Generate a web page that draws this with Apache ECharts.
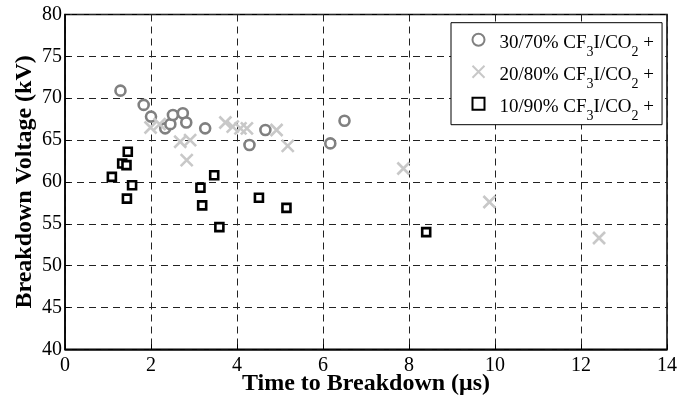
<!DOCTYPE html>
<html>
<head>
<meta charset="utf-8">
<script src="https://cdn.jsdelivr.net/npm/echarts@6/dist/echarts.min.js"></script>
<style>
  html, body { margin: 0; padding: 0; background: #fff; }
  #chart { width: 677px; height: 400px; }
</style>
</head>
<body>
<div id="chart"></div>
<script>
// time to breakdown (us) / breakdown voltage (kV)
const mix30Time = [1.29, 1.83, 2.00, 2.33, 2.45, 2.51, 2.74, 2.82, 3.26, 4.29, 4.66, 6.17, 6.50];
const mix30Volt = [70.9, 69.2, 67.8, 66.4, 66.9, 68.0, 68.2, 67.1, 66.4, 64.4, 66.2, 64.6, 67.3];

const mix20Time = [1.99, 2.20, 2.68, 2.91, 2.83, 3.73, 3.90, 4.08, 4.23, 4.92, 5.18, 7.87, 9.87, 12.42];
const mix20Volt = [66.5, 66.9, 64.8, 65.0, 62.6, 67.1, 66.6, 66.4, 66.4, 66.2, 64.3, 61.6, 57.6, 53.3];

const mix10Time = [1.09, 1.33, 1.43, 1.46, 1.56, 1.44, 3.15, 3.47, 3.19, 3.59, 4.51, 5.15, 8.40];
const mix10Volt = [60.6, 62.2, 62.0, 63.6, 59.6, 58.0, 59.3, 60.8, 57.2, 54.6, 58.1, 56.9, 54.0];

const seriesNames = ['30/70%', '20/80%', '10/90%'];
const xTicks = [0, 14, 2];   // min, max, step
const yTicks = [40, 80, 5];

const font = "'Liberation Serif', 'Times New Roman', serif";
const crossPath = 'path://M0,0L10,10M10,0L0,10';

function pairs(xs, ys) {
    return xs.map((x, i) => [x, ys[i]]);
}

const chart = echarts.init(document.getElementById('chart'));

const gridDash = {
    show: true,
    lineStyle: { color: '#222', width: 1, type: [7, 5] }
};

const option = {
    animation: false,
    backgroundColor: '#fff',
    textStyle: { fontFamily: font },
    grid: {
        left: 65, right: 10, top: 14.5, bottom: 50.7,
        containLabel: false,
        outerBoundsMode: 'none',
        show: true, borderColor: '#000', borderWidth: 1.5
    },
    legend: {
        orient: 'vertical',
        left: 451, top: 22.7,
        padding: [7, 8, 0, 19],
        itemGap: 1,
        itemWidth: 12, itemHeight: 12,
        backgroundColor: '#fff',
        borderColor: '#000', borderWidth: 1,
        borderRadius: 0,
        data: seriesNames,
        formatter: name => '{n|' + name + ' CF}{s|3}{n|I/CO}{s|2}{n| +}',
        textStyle: {
            fontFamily: font,
            color: '#000',
            padding: [0, 0, 0, 10],
            rich: {
                n: { fontFamily: font, fontSize: 19, lineHeight: 20, color: '#000', verticalAlign: 'top', padding: [4, 0, 8, 0] },
                s: { fontFamily: font, fontSize: 14, lineHeight: 16, color: '#000', verticalAlign: 'top', padding: [16, 0, 0, 0] }
            }
        }
    },
    xAxis: {
        type: 'value',
        min: xTicks[0], max: xTicks[1], interval: xTicks[2],
        name: 'Time to Breakdown (\u03bcs)',
        nameLocation: 'middle',
        nameGap: 22,
        nameMoveOverlap: false,
        nameTextStyle: { fontFamily: font, fontSize: 24, fontWeight: 'bold', color: '#000' },
        axisLine: { show: true, onZero: false, lineStyle: { color: '#000', width: 1.5 } },
        axisTick: { show: true, inside: true, length: 5, lineStyle: { color: '#000' } },
        axisLabel: { fontFamily: font, fontSize: 20, color: '#000', margin: 6 },
        splitLine: gridDash
    },
    yAxis: {
        type: 'value',
        min: yTicks[0], max: yTicks[1], interval: yTicks[2],
        name: 'Breakdown Voltage (kV)',
        nameLocation: 'middle',
        nameGap: 28,
        nameMoveOverlap: false,
        nameTextStyle: { fontFamily: font, fontSize: 24, fontWeight: 'bold', color: '#000' },
        axisLine: { show: true, onZero: false, lineStyle: { color: '#000', width: 1.5 } },
        axisTick: { show: true, inside: true, length: 5, lineStyle: { color: '#000' } },
        axisLabel: { fontFamily: font, fontSize: 20, color: '#000', margin: 3 },
        splitLine: gridDash
    },
    series: [
        {
            name: seriesNames[0],
            type: 'scatter',
            symbol: 'circle',
            symbolSize: 10,
            itemStyle: { color: '#fff', borderColor: '#808080', borderWidth: 2.6, opacity: 1 },
            data: pairs(mix30Time, mix30Volt)
        },
        {
            name: seriesNames[1],
            type: 'scatter',
            symbol: crossPath,
            symbolSize: 12,
            itemStyle: { color: 'none', borderColor: '#c8c8c8', borderWidth: 2.6, opacity: 1 },
            data: pairs(mix20Time, mix20Volt)
        },
        {
            name: seriesNames[2],
            type: 'scatter',
            symbol: 'rect',
            symbolSize: 8,
            itemStyle: { color: '#fff', borderColor: '#000', borderWidth: 2.6, opacity: 1 },
            data: pairs(mix10Time, mix10Volt)
        }
    ]
};

chart.setOption(option);
</script>
</body>
</html>
